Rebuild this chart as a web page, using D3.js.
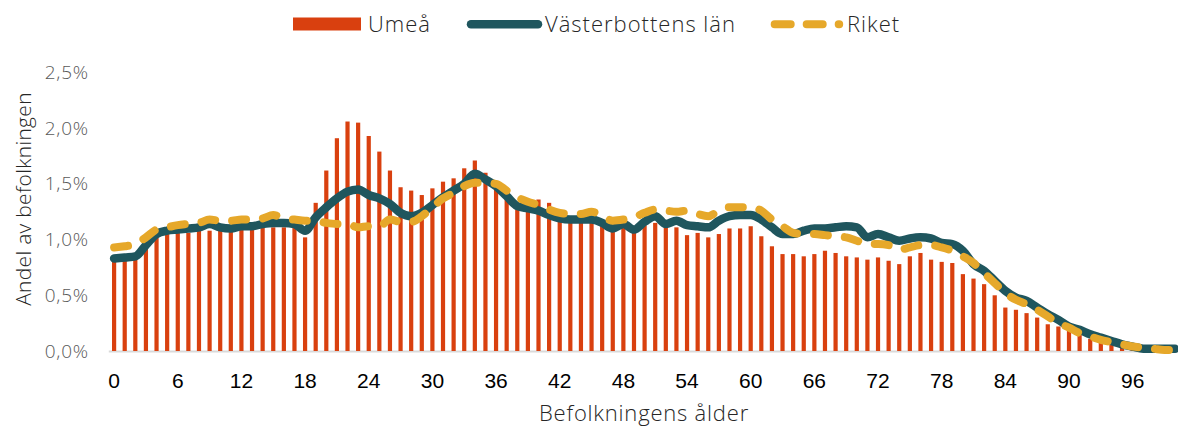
<!DOCTYPE html>
<html>
<head>
<meta charset="utf-8">
<script src="https://cdn.jsdelivr.net/npm/d3@7/dist/d3.min.js"></script>
<style>
  html, body { margin: 0; padding: 0; background: #fff; }
  svg { display: block; }
  .light { font-family: "Open Sans", "Lato", sans-serif; font-weight: 300; }
</style>
</head>
<body>
<svg id="chart" width="1178" height="428"></svg>
<script>
// Ages 0..100
const ages = d3.range(0, 101);

// Umeå (percent of population)
const umea = [
  0.81, 0.81, 0.84, 0.93, 1.02, 1.05, 1.06, 1.06, 1.08, 1.08,
  1.09, 1.08, 1.11, 1.09, 1.11, 1.11, 1.11, 1.11, 1.02, 1.33,
  1.62, 1.91, 2.06, 2.05, 1.93, 1.79, 1.62, 1.47, 1.44, 1.40,
  1.46, 1.52, 1.55, 1.64, 1.71, 1.60, 1.52, 1.40, 1.27, 1.30,
  1.36, 1.33, 1.20, 1.18, 1.17, 1.16, 1.14, 1.09, 1.12, 1.08,
  1.13, 1.15, 1.11, 1.11, 1.04, 1.06, 1.02, 1.05, 1.10, 1.10,
  1.12, 1.03, 0.94, 0.87, 0.87, 0.85, 0.87, 0.90, 0.88, 0.85,
  0.84, 0.82, 0.84, 0.81, 0.78, 0.85, 0.88, 0.82, 0.80, 0.79,
  0.69, 0.65, 0.60, 0.50, 0.39, 0.37, 0.34, 0.30, 0.24, 0.22,
  0.18, 0.15, 0.11, 0.09, 0.06, 0.04, 0.03, 0.02, 0.01, 0.01,
  0.01
];

// Västerbottens län
const vasterbotten = [
  0.83, 0.84, 0.85, 0.95, 1.05, 1.08, 1.09, 1.10, 1.11, 1.14,
  1.11, 1.10, 1.12, 1.12, 1.14, 1.15, 1.15, 1.14, 1.08, 1.20,
  1.29, 1.37, 1.43, 1.45, 1.40, 1.37, 1.32, 1.24, 1.21, 1.24,
  1.31, 1.38, 1.44, 1.50, 1.59, 1.54, 1.48, 1.39, 1.30, 1.28,
  1.26, 1.22, 1.19, 1.18, 1.18, 1.18, 1.15, 1.10, 1.14, 1.09,
  1.16, 1.21, 1.14, 1.17, 1.13, 1.12, 1.11, 1.17, 1.21, 1.22,
  1.22, 1.18, 1.11, 1.05, 1.05, 1.08, 1.10, 1.10, 1.11, 1.12,
  1.11, 1.02, 1.05, 1.02, 0.99, 1.01, 1.02, 1.01, 0.97, 0.96,
  0.90, 0.78, 0.72, 0.63, 0.54, 0.48, 0.45, 0.39, 0.33, 0.28,
  0.22, 0.19, 0.15, 0.12, 0.09, 0.06, 0.04, 0.02, 0.02, 0.02,
  0.02
];

// Riket
const riket = [
  0.93, 0.94, 0.96, 1.02, 1.09, 1.11, 1.13, 1.14, 1.15, 1.18,
  1.17, 1.17, 1.18, 1.18, 1.19, 1.22, 1.19, 1.18, 1.17, 1.17,
  1.15, 1.14, 1.14, 1.11, 1.12, 1.12, 1.18, 1.16, 1.16, 1.21,
  1.29, 1.37, 1.42, 1.48, 1.51, 1.51, 1.50, 1.44, 1.38, 1.34,
  1.31, 1.27, 1.24, 1.23, 1.23, 1.25, 1.21, 1.17, 1.18, 1.20,
  1.24, 1.27, 1.26, 1.25, 1.26, 1.23, 1.21, 1.26, 1.29, 1.29,
  1.29, 1.26, 1.18, 1.12, 1.06, 1.05, 1.05, 1.04, 1.03, 1.02,
  0.99, 0.96, 0.96, 0.95, 0.91, 0.93, 0.95, 0.95, 0.93, 0.90,
  0.85, 0.79, 0.70, 0.61, 0.52, 0.46, 0.42, 0.37, 0.31, 0.25,
  0.21, 0.16, 0.13, 0.10, 0.08, 0.06, 0.04, 0.03, 0.02, 0.01,
  0.01
];

const yTicks = [0, 0.5, 1.0, 1.5, 2.0, 2.5];
const xTicks = d3.range(0, 97, 6);
const seriesNames = ["Umeå", "Västerbottens län", "Riket"];

const colBar = "#D9400F";
const colVb = "#1F565E";
const colRiket = "#E6A82A";

const svg = d3.select("#chart");

const bandStep = 10.61;
const x = d3.scaleBand()
  .domain(ages)
  .range([114.1 - bandStep / 2, 114.1 - bandStep / 2 + bandStep * ages.length])
  .paddingInner(0).paddingOuter(0);
const y = d3.scaleLinear().domain([0, 2.5]).range([351, 72.5]);
const cx = a => x(a) + x.bandwidth() / 2;

// Axis baseline
svg.append("line")
  .attr("x1", x.range()[0]).attr("x2", 1178)
  .attr("y1", y(0) + 0.5).attr("y2", y(0) + 0.5)
  .attr("stroke", "#d9d9d9").attr("stroke-width", 2);

// Y axis labels
const yAxis = d3.axisLeft(y)
  .tickValues(yTicks)
  .tickSize(0)
  .tickPadding(0)
  .tickFormat(d => d.toFixed(1).replace(".", ",") + "%");
const gy = svg.append("g").attr("transform", "translate(89,0)").call(yAxis);
gy.select(".domain").remove();
gy.selectAll("text")
  .attr("class", "light")
  .attr("fill", "#595959")
  .style("font-size", "19px")
  .style("letter-spacing", "0.8px");

// X axis labels
const xAxis = d3.axisBottom(x)
  .tickValues(xTicks)
  .tickSize(0)
  .tickPadding(0);
const gx = svg.append("g").attr("transform", "translate(0,373)").call(xAxis);
gx.select(".domain").remove();
gx.selectAll("text")
  .attr("dy", "0.72em")
  .attr("fill", "#000")
  .style("font-family", "'Liberation Sans', Arial, sans-serif")
  .style("font-size", "21px");

// Bars
const barW = 4.2;
svg.append("g").selectAll("rect")
  .data(ages)
  .join("rect")
  .attr("x", a => cx(a) - barW / 2)
  .attr("width", barW)
  .attr("y", (a, i) => y(umea[i]))
  .attr("height", (a, i) => y(0) - y(umea[i]))
  .attr("fill", colBar);

// Lines
const line = d3.line()
  .x(d => cx(d[0]))
  .y(d => y(d[1]))
  .curve(d3.curveMonotoneX);

svg.append("path")
  .datum(ages.map((a, i) => [a, vasterbotten[i]]))
  .attr("d", line)
  .attr("fill", "none")
  .attr("stroke", colVb)
  .attr("stroke-width", 8.5)
  .attr("stroke-linejoin", "round")
  .attr("stroke-linecap", "round");

svg.append("path")
  .datum(ages.map((a, i) => [a, riket[i]]))
  .attr("d", line)
  .attr("fill", "none")
  .attr("stroke", colRiket)
  .attr("stroke-width", 8)
  .attr("stroke-dasharray", "14 17")
  .attr("stroke-linejoin", "round")
  .attr("stroke-linecap", "round");

// Axis titles
svg.append("text")
  .attr("class", "light")
  .attr("transform", "translate(31,199) rotate(-90)")
  .attr("text-anchor", "middle")
  .attr("fill", "#262626")
  .style("font-size", "21px")
  .style("letter-spacing", "0.3px")
  .text("Andel av befolkningen");

svg.append("text")
  .attr("class", "light")
  .attr("x", 644).attr("y", 421)
  .attr("text-anchor", "middle")
  .attr("fill", "#262626")
  .style("font-size", "22px")
  .style("letter-spacing", "0.8px")
  .text("Befolkningens ålder");

// Legend
const lg = svg.append("g");
const legFont = "22px";
const legSpacing = "1px";
lg.append("rect").attr("x", 293).attr("y", 17.5).attr("width", 68).attr("height", 13).attr("fill", colBar);
lg.append("text").attr("class", "light").attr("x", 368).attr("y", 31.5)
  .attr("fill", "#262626").style("font-size", legFont).style("letter-spacing", legSpacing)
  .text(seriesNames[0]);

lg.append("line").attr("x1", 471).attr("x2", 538).attr("y1", 24.3).attr("y2", 24.3)
  .attr("stroke", colVb).attr("stroke-width", 8.5).attr("stroke-linecap", "round");
lg.append("text").attr("class", "light").attr("x", 545).attr("y", 31.5)
  .attr("fill", "#262626").style("font-size", legFont).style("letter-spacing", legSpacing)
  .text(seriesNames[1]);

lg.append("line").attr("x1", 774.7).attr("x2", 839.2).attr("y1", 24.3).attr("y2", 24.3)
  .attr("stroke", colRiket).attr("stroke-width", 8).attr("stroke-linecap", "round")
  .attr("stroke-dasharray", "16 16");
lg.append("text").attr("class", "light").attr("x", 847).attr("y", 31.5)
  .attr("fill", "#262626").style("font-size", legFont).style("letter-spacing", legSpacing)
  .text(seriesNames[2]);
</script>
</body>
</html>
